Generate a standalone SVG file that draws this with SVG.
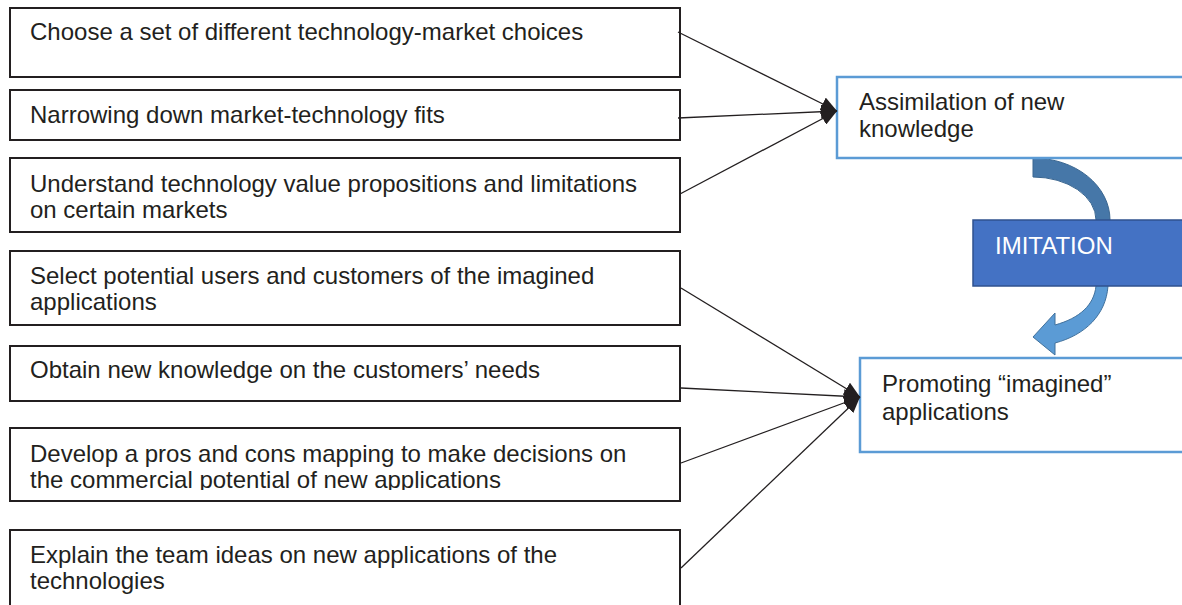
<svg xmlns="http://www.w3.org/2000/svg" width="1182" height="605" viewBox="0 0 1182 605">
<style>
  .box{fill:#fff;stroke:#231F20;stroke-width:2}
  .bbox{fill:#fff;stroke:#5B9BD5;stroke-width:2.5}
  .t{font-family:"Liberation Sans",Arial,sans-serif;font-size:24px;fill:#231F20}
  .w{font-family:"Liberation Sans",Arial,sans-serif;font-size:24px;fill:#fff}
  .c{stroke:#231F20;stroke-width:1.3;fill:none;marker-end:url(#ah)}
</style>
<defs>
  <marker id="ah" markerUnits="userSpaceOnUse" markerWidth="18" markerHeight="14" refX="16" refY="7" orient="auto">
    <path d="M0,0 L16,7 L0,14 Z" fill="#231F20"/>
  </marker>
  <clipPath id="clip6"><rect x="0" y="428" width="700" height="62"/></clipPath>
</defs>
<rect width="1182" height="605" fill="#fff"/>

<g id="arrow-imitation">
  <path d="M1033,158 A77,62 0 0 1 1110,220 L1110,232 L1096,232 L1096,220 A63,43 0 0 0 1033,177 Z" fill="#4677A8" stroke="#3A6690" stroke-width="1"/>
  <path d="M1110,278 L1108,286 C1106,315 1085,335 1055,343 L1055,355 L1033,337 L1055,313 L1055,325 C1080,318 1094,305 1096,286 L1096,278 Z" fill="#5B9BD5" stroke="#41719C" stroke-width="1"/>
</g>

<g id="n1"><rect class="box" x="10" y="8" width="670" height="69"/><text class="t" x="30" y="40">Choose a set of different technology-market choices</text></g>
<g id="n2"><rect class="box" x="10" y="90" width="670" height="50"/><text class="t" x="30" y="123">Narrowing down market-technology fits</text></g>
<g id="n3"><rect class="box" x="10" y="158" width="670" height="74"/><text class="t" x="30" y="192">Understand technology value propositions and limitations</text><text class="t" x="30" y="218">on certain markets</text></g>
<g id="n4"><rect class="box" x="10" y="251" width="670" height="74"/><text class="t" x="30" y="284">Select potential users and customers of the imagined</text><text class="t" x="30" y="310">applications</text></g>
<g id="n5"><rect class="box" x="10" y="346" width="670" height="55"/><text class="t" x="30" y="378">Obtain new knowledge on the customers’ needs</text></g>
<g id="n6"><rect class="box" x="10" y="428" width="670" height="73"/><g clip-path="url(#clip6)"><text class="t" x="30" y="462">Develop a pros and cons mapping to make decisions on</text><text class="t" x="30" y="488">the commercial potential of new applications</text></g></g>
<g id="n7"><rect class="box" x="10" y="530" width="670" height="90"/><text class="t" x="30" y="563">Explain the team ideas on new applications of the</text><text class="t" x="30" y="589">technologies</text></g>

<g id="n-assim"><rect class="bbox" x="837" y="77" width="360" height="81"/><text class="t" x="859" y="110">Assimilation of new</text><text class="t" x="859" y="137">knowledge</text></g>
<g id="n-imitation"><rect x="973" y="220" width="220" height="66" fill="#4472C4" stroke="#2F528F" stroke-width="1.5"/><text class="w" x="995" y="254">IMITATION</text></g>
<g id="n-promo"><rect class="bbox" x="860" y="358" width="340" height="94"/><text class="t" x="882" y="392">Promoting “imagined”</text><text class="t" x="882" y="420">applications</text></g>

<g id="connectors">
  <line class="c" x1="678" y1="32" x2="837" y2="111"/>
  <line class="c" x1="678" y1="118" x2="837" y2="111"/>
  <line class="c" x1="680" y1="194" x2="837" y2="111"/>
  <line class="c" x1="681" y1="288" x2="860" y2="397"/>
  <line class="c" x1="681" y1="388" x2="860" y2="397"/>
  <line class="c" x1="681" y1="463" x2="860" y2="397"/>
  <line class="c" x1="681" y1="568" x2="860" y2="397"/>
</g>
</svg>
